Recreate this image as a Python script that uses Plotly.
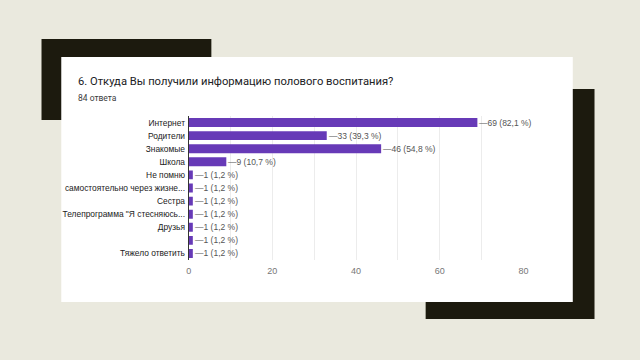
import plotly.graph_objects as go

categories = ["Интернет", "Родители", "Знакомые", "Школа", "Не помню",
              "самостоятельно через жизне...", "Сестра",
              "Телепрограмма \"Я стесняюсь...", "Друзья", "", "Тяжело ответить"]
values = [69, 33, 46, 9, 1, 1, 1, 1, 1, 1, 1]
percents = ["82,1", "39,3", "54,8", "10,7", "1,2", "1,2", "1,2", "1,2", "1,2", "1,2", "1,2"]
x_ticks = [0, 20, 40, 60, 80]

W, H = 640, 360
def px(x): return x / W
def py(y): return 1 - y / H

idx = list(range(len(categories)))
fig = go.Figure()
fig.add_trace(go.Bar(
    x=values, y=idx, orientation="h", width=0.68,
    marker=dict(color="#673ab7", line=dict(width=0)),
    hoverinfo="skip",
))

for i, (v, p) in enumerate(zip(values, percents)):
    fig.add_annotation(x=v, y=i, xref="x", yref="y", text=f"—{v} ({p} %)",
                       showarrow=False, xanchor="left", xshift=0,
                       font=dict(family="Liberation Sans, Arial", size=8.5, color="#555555"))

shapes = [
    dict(type="rect", xref="paper", yref="paper", x0=px(39), x1=px(211), y0=py(120), y1=py(39),
         fillcolor="#1c1a0e", line=dict(width=0), layer="below"),
    dict(type="rect", xref="paper", yref="paper", x0=px(428), x1=px(599), y0=py(319), y1=py(89),
         fillcolor="#1c1a0e", line=dict(width=0), layer="below"),
    dict(type="rect", xref="paper", yref="paper", x0=px(59), x1=px(577), y0=py(302), y1=py(57),
         fillcolor="#ffffff", line=dict(width=0), layer="below"),
]

fig.add_annotation(xref="paper", yref="paper", x=px(74), y=py(82), text="6. Откуда Вы получили информацию полового воспитания?",
                   showarrow=False, xanchor="left", yanchor="middle",
                   font=dict(family="Roboto", size=11.2, color="#202124"))
fig.add_annotation(xref="paper", yref="paper", x=px(74), y=py(98), text="84 ответа",
                   showarrow=False, xanchor="left", yanchor="middle",
                   font=dict(family="Roboto", size=8.5, color="#3c3c3c"))

fig.update_layout(
    width=W, height=H, margin=dict(l=0, r=0, t=0, b=0),
    paper_bgcolor="#eae9de", plot_bgcolor="rgba(0,0,0,0)",
    shapes=shapes, showlegend=False, bargap=0.3,
    xaxis=dict(domain=[px(188), px(527)], range=[0, 80], tickvals=x_ticks,
               showgrid=True, gridcolor="#ececec", gridwidth=1,
               tickfont=dict(family="Liberation Sans, Arial", size=9, color="#777777"),
               zeroline=False, showline=False, ticks="", fixedrange=True, ticklabelstandoff=4,
               minor=dict(dtick=10, tick0=0, showgrid=True, gridcolor="#ececec")),
    yaxis=dict(domain=[py(260), py(116)], range=[10.5, -0.5], tickvals=idx, ticktext=categories,
               tickfont=dict(family="Liberation Sans, Arial", size=8.4, color="#222222"),
               showgrid=False, zeroline=False, showline=True, linecolor="#333333", linewidth=1,
               ticks="", ticklabelstandoff=1),
)

fig.write_html("out.html")
